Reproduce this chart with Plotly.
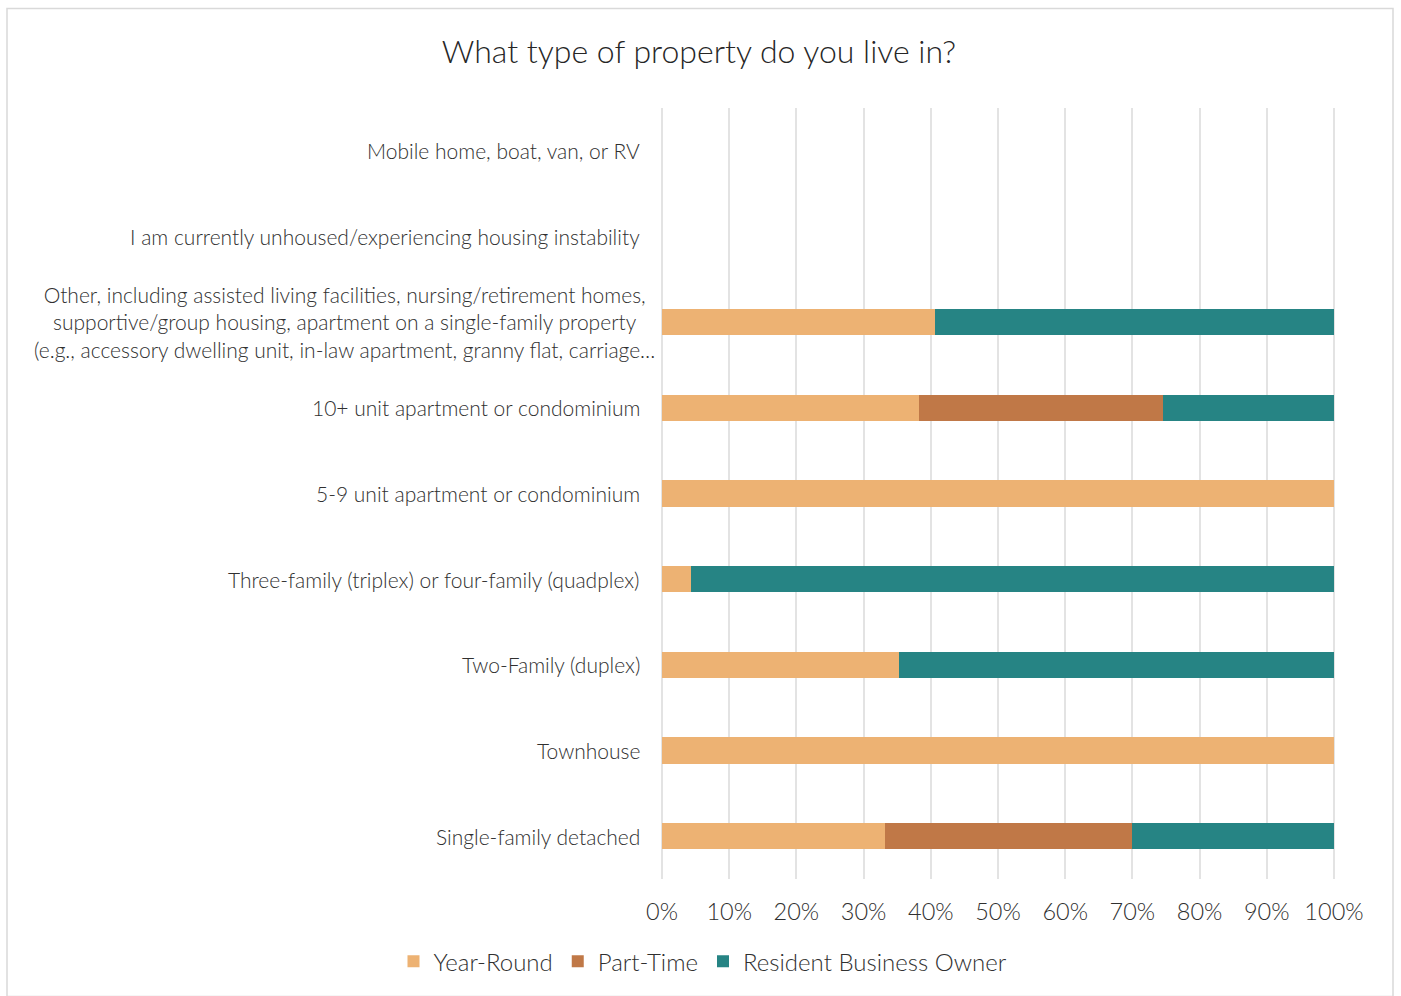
import plotly.graph_objects as go

# Property types, listed bottom-to-top as they appear on the y axis
categories = [
    "Single-family detached",
    "Townhouse",
    "Two-Family (duplex)",
    "Three-family (triplex) or four-family (quadplex)",
    "5-9 unit apartment or condominium",
    "10+ unit apartment or condominium",
    "Other, including assisted living facilities, nursing/retirement homes,<br>"
    "supportive/group housing, apartment on a single-family property<br>"
    "(e.g., accessory dwelling unit, in-law apartment, granny flat, carriage…",
    "I am currently unhoused/experiencing housing instability",
    "Mobile home, boat, van, or RV",
]

# Share of respondents (%) in each group
year_round = [33.2, 100.0, 35.3, 4.3, 100.0, 38.3, 40.6, 0.0, 0.0]
part_time = [36.7, 0.0, 0.0, 0.0, 0.0, 36.2, 0.0, 0.0, 0.0]
business_owner = [30.1, 0.0, 64.7, 95.7, 0.0, 25.5, 59.4, 0.0, 0.0]

series = [
    ("Year-Round", year_round, "#EDB273"),
    ("Part-Time", part_time, "#C07847"),
    ("Resident Business Owner", business_owner, "#268484"),
]

FONT = "Lato"
TEXT = "#303030"

fig = go.Figure()
for name, vals, color in series:
    fig.add_trace(go.Bar(
        y=list(range(len(categories))),
        x=vals,
        name=name,
        orientation="h",
        marker=dict(color=color, line=dict(width=0)),
        hoverinfo="x+name",
    ))

# Category labels drawn beside the axis so wrapped lines stay centred
for i, label in enumerate(categories):
    wrapped = "<br>" in label
    fig.add_annotation(
        x=0, xref="x", xshift=-5 if wrapped else -20,
        y=i, yref="y",
        text=label, showarrow=False,
        xanchor="right", yanchor="middle", align="center",
        font=dict(family=FONT, size=21, color=TEXT, weight=300),
    )

# Small padding on the x range keeps the 0% and 100% gridlines visible
PAD = 0.3
L, R, T, B = 660, 65, 108, 114
W, H = 1401, 996
pw, ph = W - L - R, H - T - B

# Light frame round the whole chart
fig.add_shape(
    type="rect", xref="paper", yref="paper",
    x0=(7 - L) / pw, x1=(1393 - L) / pw,
    y0=(H - B - 1000) / ph, y1=(H - B - 8) / ph,
    line=dict(color="#D9D9D9", width=1.5), fillcolor="rgba(0,0,0,0)",
    layer="below",
)

fig.update_layout(
    width=W, height=H,
    margin=dict(l=L, r=R, t=T, b=B),
    paper_bgcolor="white", plot_bgcolor="white",
    barmode="stack", bargap=0.69,
    title=dict(
        text="What type of property do you live in?",
        x=699 / W, xanchor="center", y=1 - 52 / H, yanchor="middle",
        font=dict(family=FONT, size=32, color="#262626", weight=300),
    ),
    xaxis=dict(
        range=[-PAD, 100 + PAD], tickvals=list(range(0, 101, 10)),
        ticktext=[f"{v}%" for v in range(0, 101, 10)],
        showgrid=True, gridcolor="#E3E3E3", gridwidth=2,
        zeroline=False, showline=False, ticks="",
        tickfont=dict(family=FONT, size=23.5, color=TEXT, weight=300),
        ticklabelstandoff=16,
        fixedrange=True,
    ),
    yaxis=dict(
        range=[-0.5, len(categories) - 0.5],
        showticklabels=False, showgrid=False, zeroline=False,
        showline=False, ticks="", fixedrange=True,
    ),
    legend=dict(
        orientation="h", x=(703 - L) / pw, xanchor="center",
        y=(H - B - 965) / ph, yanchor="middle",
        font=dict(family=FONT, size=24, color=TEXT, weight=300),
        traceorder="normal", itemwidth=30,
    ),
    showlegend=True,
)

fig.write_html("out.html")
